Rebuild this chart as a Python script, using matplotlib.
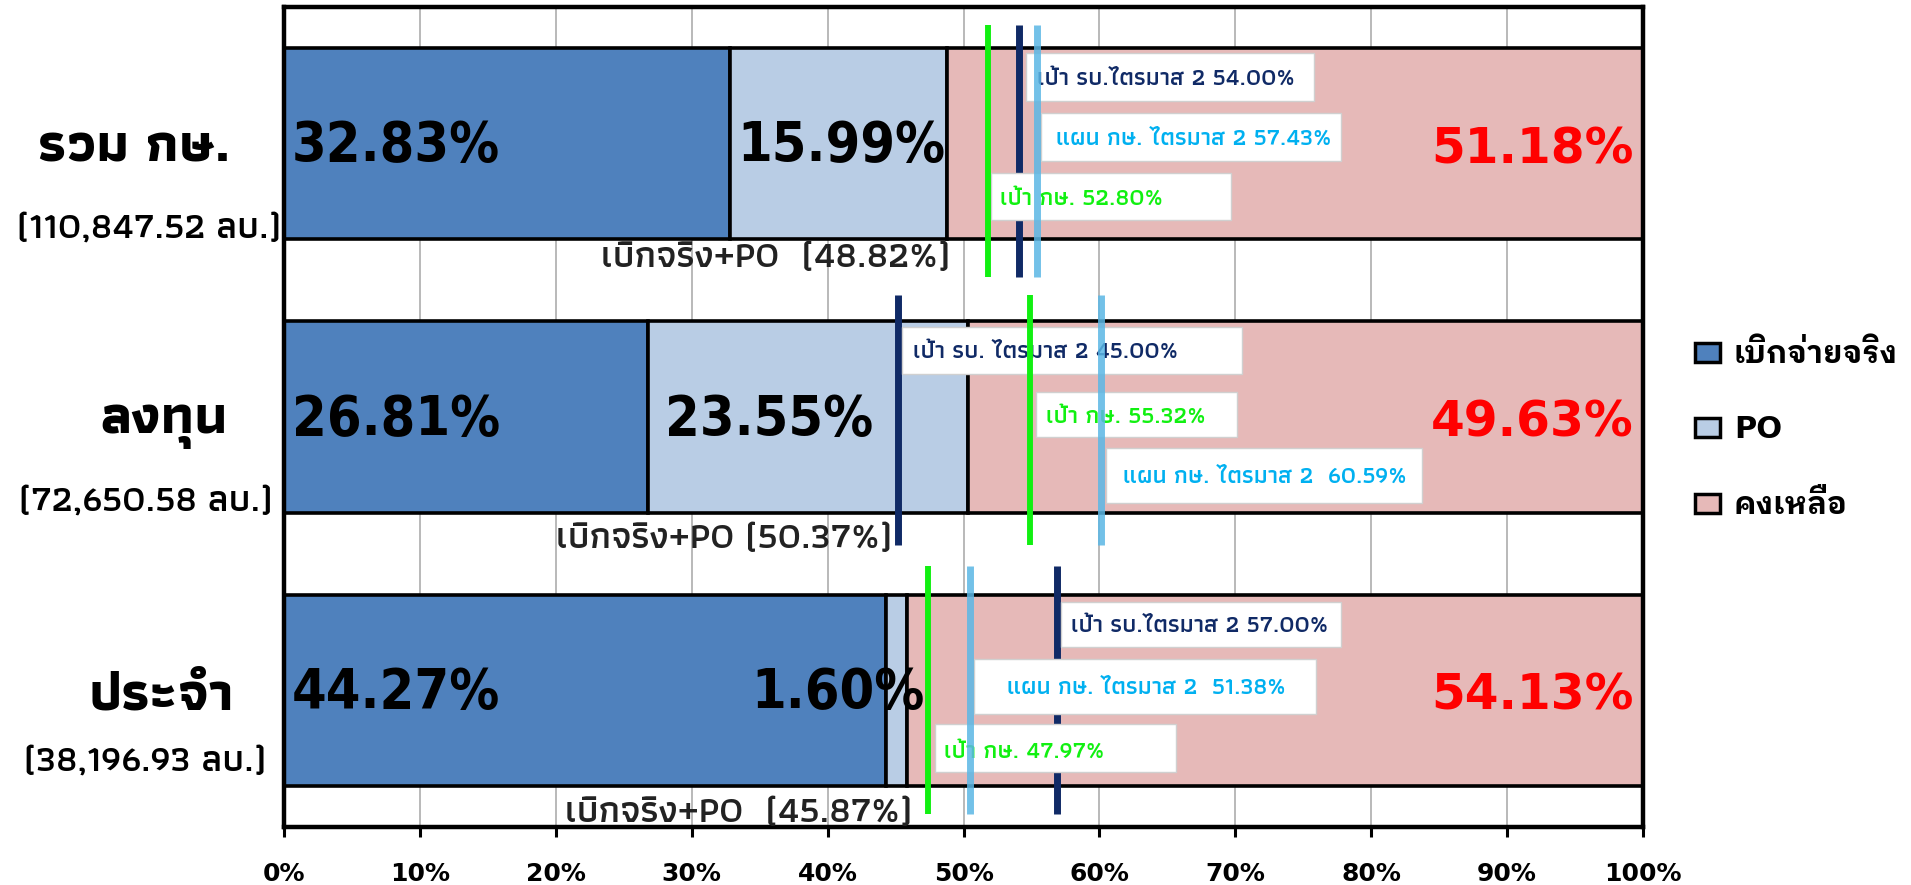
import matplotlib
matplotlib.use('Agg')
import matplotlib.pyplot as plt
from matplotlib import font_manager as fm
from matplotlib.patches import Rectangle, Patch

# ---------------- data ----------------
categories = ['รวม กษ.', 'ลงทุน', 'ประจำ']
amounts = ['(110,847.52 ลบ.)', '(72,650.58 ลบ.)', '(38,196.93 ลบ.)']
disbursed = [32.83, 26.81, 44.27]
po = [15.99, 23.55, 1.60]
remaining = [51.18, 49.63, 54.13]
disb_po = [48.82, 50.37, 45.87]
series_names = ['เบิกจ่ายจริง', 'PO', 'คงเหลือ']
x_ticks = [0, 10, 20, 30, 40, 50, 60, 70, 80, 90, 100]
x_ticklabels = ['0%', '10%', '20%', '30%', '40%', '50%', '60%', '70%', '80%', '90%', '100%']

# target marker lines (positions as drawn in the picture)
gov_target_pos = [54.1, 45.2, 56.9]      # navy: เป้า รบ.
moac_target_pos = [51.8, 54.9, 47.4]     # green: เป้า กษ.
moac_plan_pos = [55.4, 60.1, 50.5]       # light blue: แผน กษ.
gov_target_txt = ['เป้า รบ.ไตรมาส 2 54.00%', 'เป้า รบ. ไตรมาส 2 45.00%', 'เป้า รบ.ไตรมาส 2 57.00%']
moac_target_txt = ['เป้า กษ. 52.80%', 'เป้า กษ. 55.32%', 'เป้า กษ. 47.97%']
moac_plan_txt = ['แผน กษ. ไตรมาส 2 57.43%', 'แผน กษ. ไตรมาส 2  60.59%', 'แผน กษ. ไตรมาส 2  51.38%']

# ---------------- fonts ----------------
FAM_T = ['Athiti', 'DejaVu Sans']
FAM_L = ['DejaVu Sans', 'IBM Plex Sans Thai Looped', 'Loma']

# ---------------- colours ----------------
c_disb = '#4F81BD'
c_po = '#B9CDE5'
c_rem = '#E6B9B8'
c_navy = '#102A66'
c_green = '#11F011'
c_lblue = '#5BB7E5'
c_lblue_txt = '#00B0F0'

fig = plt.figure(figsize=(19.11, 8.85), dpi=100)
ax = fig.add_axes([0.1486, 0.0655, 0.7112, 0.9266])

rows = list(range(len(categories)))
h = 0.7
lw_edge = 2.6
ax.barh(rows, disbursed, height=h, color=c_disb, edgecolor='black', linewidth=lw_edge, zorder=2)
ax.barh(rows, po, left=disbursed, height=h, color=c_po, edgecolor='black', linewidth=lw_edge, zorder=2)
left3 = [d + p for d, p in zip(disbursed, po)]
ax.barh(rows, remaining, left=left3, height=h, color=c_rem, edgecolor='black', linewidth=lw_edge, zorder=2)

ax.set_xlim(0, 100)
ax.set_ylim(2.5, -0.5)
ax.set_xticks(x_ticks)
ax.set_xticklabels(x_ticklabels, fontsize=18, fontweight='bold', family='DejaVu Sans')
ax.set_yticks([])
ax.tick_params(axis='x', length=7, width=2.2, pad=18, direction='out', color='black')
ax.grid(axis='x', color='#A6A6A6', linewidth=1.1, zorder=0)
ax.set_axisbelow(True)
for s in ax.spines.values():
    s.set_linewidth(3.2)
    s.set_color('black')

big_fp = fm.FontProperties(family='DejaVu Sans', weight='bold', stretch='condensed', size=40)
po_label_x = [41.0, 35.7, 40.8]
for i in rows:
    ax.text(0.6, i + 0.01, f'{disbursed[i]:.2f}%', fontproperties=big_fp, color='black',
            ha='left', va='center', zorder=5)
    ax.text(po_label_x[i], i + 0.01, f'{po[i]:.2f}%', fontproperties=big_fp, color='black',
            ha='center', va='center', zorder=5)
    ax.text(99.3, i + 0.02, f'{remaining[i]:.2f}%', family='DejaVu Sans', fontweight='bold',
            fontsize=35, color='#FF0000', ha='right', va='center', zorder=5)

# sum labels below bars
sum_x = [23.3, 20.0, 20.7]
sum_dy = [0.42, 0.445, 0.45]
sum_gap = ['  ', ' ', '  ']
for i in rows:
    ax.text(sum_x[i], i + sum_dy[i], f'เบิกจริง+PO{sum_gap[i]}({disb_po[i]:.2f}%)', family=FAM_T,
            fontsize=27, fontweight=600, color='#222222', ha='left', va='center', zorder=6)

# target lines
line_top = [-0.434, -0.445, -0.456]
line_bot = [0.489, 0.467, 0.453]
lw_line = 5.0
for i in rows:
    ax.plot([gov_target_pos[i]] * 2, [i + line_top[i], i + line_bot[i]], color=c_navy,
            lw=lw_line, solid_capstyle='butt', zorder=3)
    ax.plot([moac_target_pos[i]] * 2, [i + line_top[i], i + line_bot[i]], color=c_green,
            lw=lw_line * 0.85, solid_capstyle='butt', zorder=8)
    ax.plot([moac_plan_pos[i]] * 2, [i + line_top[i], i + line_bot[i]], color=c_lblue,
            lw=lw_line, alpha=0.85, solid_capstyle='butt', zorder=8)

# annotation boxes: (x0, x1, y0, y1, text x, text y)
boxes = [
    [(54.6, 75.8, -0.332, -0.157, 55.4, -0.237, gov_target_txt[0], c_navy),
     (55.7, 77.8, -0.113, 0.062, 56.8, -0.018, moac_plan_txt[0], c_lblue_txt),
     (52.0, 69.7, 0.109, 0.281, 52.7, 0.200, moac_target_txt[0], c_green)],
    [(45.5, 70.5, -0.328, -0.157, 46.3, -0.237, gov_target_txt[1], c_navy),
     (55.3, 70.1, -0.091, 0.073, 56.1, 0.000, moac_target_txt[1], c_green),
     (60.5, 83.7, 0.113, 0.314, 61.7, 0.219, moac_plan_txt[1], c_lblue_txt)],
    [(57.2, 77.8, -0.325, -0.157, 57.9, -0.237, gov_target_txt[2], c_navy),
     (50.8, 75.9, -0.113, 0.088, 53.2, -0.011, moac_plan_txt[2], c_lblue_txt),
     (47.9, 65.6, 0.124, 0.299, 48.6, 0.223, moac_target_txt[2], c_green)],
]
for i in rows:
    for (x0, x1, y0, y1, tx, ty, txt, col) in boxes[i]:
        ax.add_patch(Rectangle((x0, i + y0), x1 - x0, y1 - y0, facecolor='white',
                               edgecolor='#D0D0D0', linewidth=1.0, zorder=4))
        ax.text(tx, i + ty, txt, family=FAM_T, fontsize=17.5, fontweight=600, color=col,
                ha='left', va='center', zorder=5)

# row labels
cat_x = [-11.0, -8.8, -9.0]
cat_dy = [0.015, 0.03, 0.02]
amt_x = [-9.9, -10.2, -10.2]
amt_dy = [0.31, 0.31, 0.26]
for i in rows:
    ax.text(cat_x[i], i + cat_dy[i], categories[i], family=FAM_T, fontsize=39.5,
            fontweight='bold', color='black', ha='center', va='center', clip_on=False)
    ax.text(amt_x[i], i + amt_dy[i], amounts[i], family=FAM_T, fontsize=27, fontweight=600,
            color='black', ha='center', va='center', clip_on=False)

# legend
handles = [Patch(facecolor=c, edgecolor='black', linewidth=2.5) for c in (c_disb, c_po, c_rem)]
leg_fp = fm.FontProperties(family=FAM_L, weight='bold', size=22)
fig.legend(handles, series_names, loc='upper left', bbox_to_anchor=(0.887, 0.616),
           frameon=False, prop=leg_fp, handlelength=0.82, handleheight=0.6,
           handletextpad=0.45, labelspacing=1.5, borderpad=0, borderaxespad=0)

fig.savefig('out.png', dpi=100)
